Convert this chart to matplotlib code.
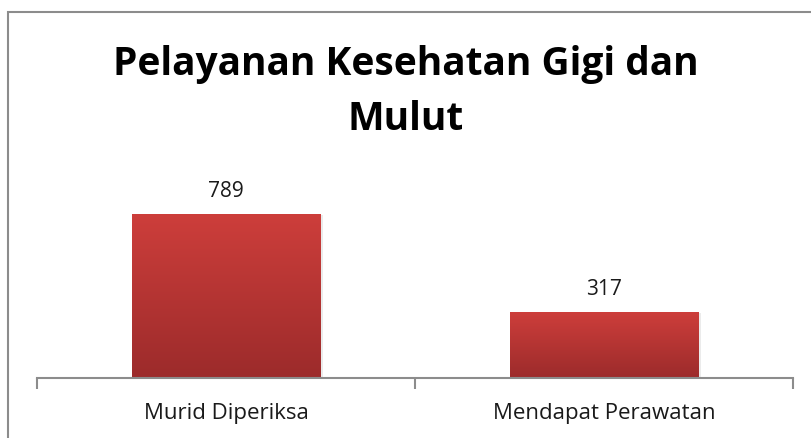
import matplotlib
matplotlib.use("Agg")
import matplotlib.pyplot as plt
import numpy as np
from matplotlib.colors import LinearSegmentedColormap
from matplotlib.patches import Rectangle

categories = ["Murid Diperiksa", "Mendapat Perawatan"]
values = [789, 317]
title = "Pelayanan Kesehatan Gigi dan\nMulut"

W, H = 811, 438
fig = plt.figure(figsize=(W / 100, H / 100), dpi=100)
fig.patch.set_facecolor("white")

# outer border (chart area frame)
fig.add_artist(Rectangle((7.5 / W, -0.1), 1.2, 1 - 11.5 / H + 0.1, transform=fig.transFigure,
                         fill=False, edgecolor="#8c8c8c", linewidth=1.5))

ax_left, ax_right = 37 / W, 793 / W
ax_bottom, ax_top = 1 - 378 / H, 1 - 191 / H
ax = fig.add_axes([ax_left, ax_bottom, ax_right - ax_left, ax_top - ax_bottom])
ax.set_xlim(-0.5, len(categories) - 0.5)
ax.set_ylim(0, 900)
ax.patch.set_alpha(0)

cmap = LinearSegmentedColormap.from_list("grad", ["#9c2b2b", "#cd3e3b"])
grad = np.linspace(0, 1, 256).reshape(-1, 1)
x = np.arange(len(categories))
bars = ax.bar(x, values, width=0.5, color="none", edgecolor="none")
for b, v in zip(bars, values):
    x0 = b.get_x()
    # subtle shadow
    ax.bar(b.get_x() + b.get_width() / 2 + 0.006, v, width=0.5, bottom=-6,
           color="#000000", alpha=0.08, edgecolor="none", zorder=1)
    im = ax.imshow(grad, extent=(x0, x0 + b.get_width(), 0, v), origin="lower",
                   cmap=cmap, aspect="auto", zorder=2)
    im.set_clip_path(b)
    ax.text(b.get_x() + b.get_width() / 2, v + 110, str(v), ha="center", va="center",
            fontsize=15, family="Open Sans", color="#1a1a1a")
ax.set_xlim(-0.5, len(categories) - 0.5)
ax.set_ylim(0, 900)

for s in ["top", "right", "left"]:
    ax.spines[s].set_visible(False)
ax.spines["bottom"].set_color("#8c8c8c")
ax.spines["bottom"].set_linewidth(1.5)
ax.set_yticks([])
ax.set_xticks(np.arange(-0.5, len(categories), 1.0))
ax.set_xticklabels([])
ax.tick_params(axis="x", length=8, width=1.5, color="#8c8c8c", direction="out")
for xi, c in zip(x, categories):
    ax.text(xi, -36 / 187 * 900, c, ha="center", va="center", fontsize=16,
            family="Open Sans", color="#1a1a1a")

fig.text(0.5, 1 - 92 / H, title, ha="center", va="center", fontsize=28,
         family="Open Sans", fontweight="bold", linespacing=1.5, color="#000000")

fig.savefig("out.png", dpi=100)
